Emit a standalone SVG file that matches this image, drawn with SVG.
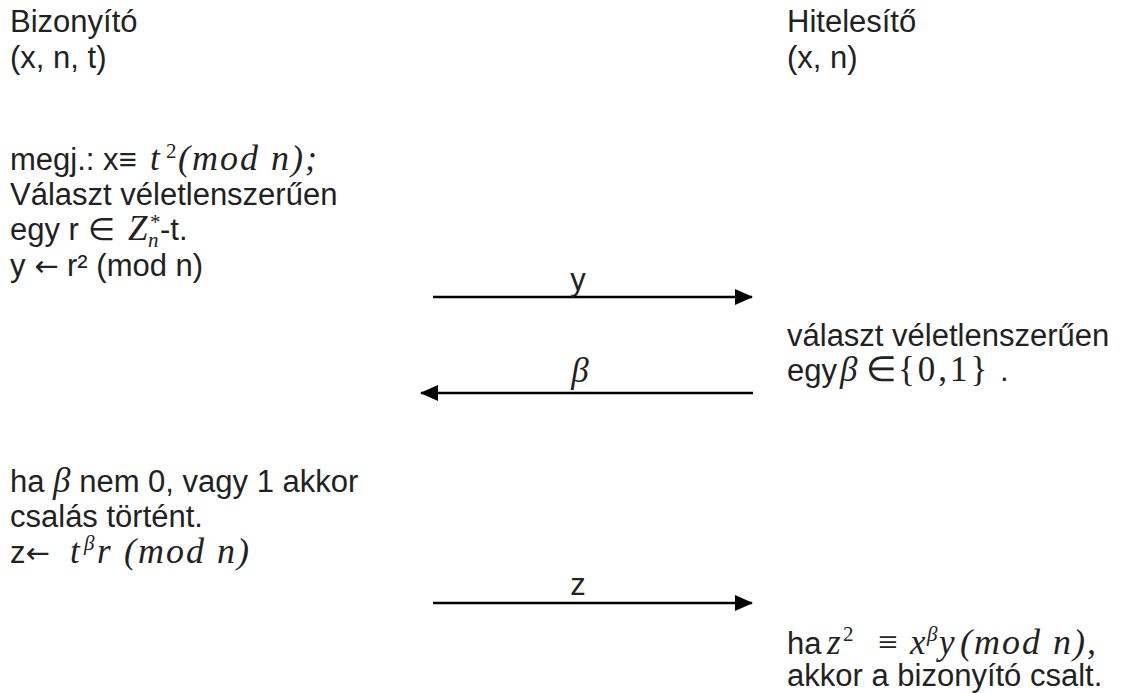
<svg xmlns="http://www.w3.org/2000/svg" width="1126" height="693" viewBox="0 0 1126 693">
<style>
.t{font-family:"Liberation Sans",Arial,sans-serif;font-size:31px;fill:#222}
.m{font-family:"Liberation Serif","Times New Roman",serif;font-style:italic;font-size:35px}
.r{font-family:"Liberation Serif","Times New Roman",serif;font-style:normal;font-size:35px}
.mod{font-family:"Liberation Serif","Times New Roman",serif;font-style:italic;font-size:36px;letter-spacing:2px}
.sup{font-size:21px}
.ar{font-family:"DejaVu Sans",sans-serif;font-size:29px}
.c{stroke:#000;stroke-width:2.4;fill:none}
</style>
<defs>
<marker id="ah" markerWidth="18" markerHeight="16" refX="17" refY="8" orient="auto" markerUnits="userSpaceOnUse">
<path d="M0,0 L18,8 L0,16 Z" fill="#000"/>
</marker>
</defs>
<rect width="1126" height="693" fill="#fff"/>
<g id="prover">
<text class="t" x="10" y="32">Bizonyító</text>
<text class="t" x="10" y="68">(x, n, t)</text>
<text class="t" x="10" y="170">megj.: x≡<tspan class="m" x="150">t</tspan><tspan class="r sup" x="166" dy="-12">2</tspan><tspan class="mod" x="178" dy="12">(mod n);</tspan></text>
<text class="t" x="10" y="205">Választ véletlenszerűen</text>
<text class="t" x="10" y="240">egy r ∈<tspan class="m" x="128">Z</tspan><tspan class="m sup" x="149" dy="-11">*</tspan><tspan class="m sup" x="148" dy="18">n</tspan><tspan x="160" dy="-7">-t.</tspan></text>
<text class="t" x="10" y="276">y <tspan class="ar">←</tspan> r² (mod n)</text>
</g>
<g id="prover2">
<text class="t" x="10" y="492">ha <tspan class="m">β</tspan> nem 0, vagy 1 akkor</text>
<text class="t" x="10" y="527">csalás történt.</text>
<text class="t" x="10" y="563">z<tspan class="ar">←</tspan><tspan class="m" x="70">t</tspan><tspan class="m sup" x="84" dy="-13">β</tspan><tspan class="m" x="97" dy="13">r</tspan><tspan class="mod" x="124">(mod n)</tspan></text>
</g>
<g id="verifier">
<text class="t" x="787" y="32">Hitelesítő</text>
<text class="t" x="787" y="68">(x, n)</text>
</g>
<g id="verifier2">
<text class="t" x="787" y="346">választ véletlenszerűen</text>
<text class="t" x="787" y="381">egy<tspan class="m" x="840">β</tspan><tspan class="r" x="866">∈</tspan><tspan class="r" x="898" style="letter-spacing:3px">{0,1}</tspan><tspan x="1000">.</tspan></text>
</g>
<g id="verifier3">
<text class="t" x="787" y="654">ha<tspan class="m" x="827">z</tspan><tspan class="r sup" x="843" dy="-13">2</tspan><tspan class="r" x="878" dy="13">≡</tspan><tspan class="m" x="910">x</tspan><tspan class="m sup" x="927" dy="-13">β</tspan><tspan class="m" x="939" dy="13">y</tspan><tspan class="mod" x="960">(mod n),</tspan></text>
<text class="t" x="787" y="686">akkor a bizonyító csalt.</text>
</g>
<g id="connectors">
<line class="c" x1="433" y1="297" x2="752" y2="297" marker-end="url(#ah)"/>
<text class="t" x="578" y="290" text-anchor="middle">y</text>
<line class="c" x1="753" y1="393" x2="421" y2="393" marker-end="url(#ah)"/>
<text class="m" x="580" y="382" text-anchor="middle" fill="#222">β</text>
<line class="c" x1="433" y1="603" x2="752" y2="603" marker-end="url(#ah)"/>
<text class="t" x="578" y="595" text-anchor="middle">z</text>
</g>
</svg>
